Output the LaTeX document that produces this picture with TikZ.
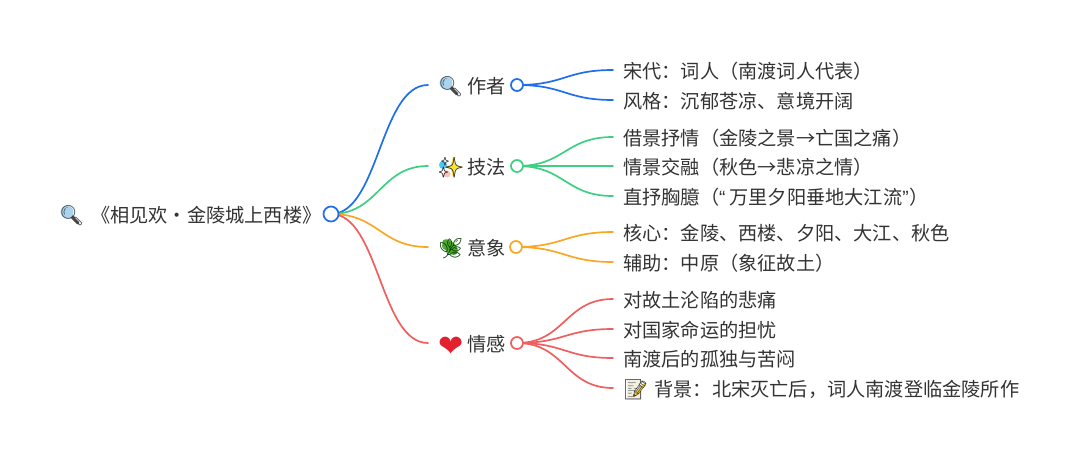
\documentclass[tikz,border=0pt]{standalone}
\usepackage{fontspec}
\setmainfont{Noto Sans CJK SC}
\newfontfamily\emojifont{Noto Emoji}
\newfontfamily\symbolfont{DejaVu Sans}
\newfontfamily\quotefont{Liberation Sans}
\usetikzlibrary{backgrounds}
\definecolor{txtcol}{HTML}{333333}
\definecolor{bluecol}{HTML}{1F6FEB}
\definecolor{greencol}{HTML}{3ECF82}
\definecolor{orangecol}{HTML}{F9A825}
\definecolor{redcol}{HTML}{EF5F5F}
\definecolor{lenscol}{HTML}{A9D3EE}
\definecolor{starcol}{HTML}{FFE629}
\definecolor{herbcol}{HTML}{4FA82E}
\definecolor{heartcol}{HTML}{E3202E}
\definecolor{pagecol}{HTML}{F3F0E2}
\newcommand{\iconmag}{{\fontsize{20}{22}\emojifont\color{black!75}🔍}}
\newcommand{\iconspark}{{\fontsize{20}{22}\emojifont\color{black!85}✨}}
\newcommand{\iconherb}{{\fontsize{20}{22}\emojifont\color{green!25!black}🌿}}
\newcommand{\iconheart}{{\fontsize{30}{22}\symbolfont\color{heartcol}\raisebox{-5.5pt}{❤}}}
\newcommand{\iconmemo}{{\fontsize{20}{22}\emojifont\color{black!75}📝}}
\tikzset{
  txt/.style={font=\fontsize{19.2}{22}\selectfont, text=txtcol, inner ysep=0pt, inner xsep=0pt, text height=19pt, text depth=2.4pt, anchor=west},
  leaf/.style={txt, inner xsep=10pt},
  dot/.style={circle, draw=#1, fill=white, line width=1.7pt, minimum size=12pt, inner sep=0pt},
  link/.style={line width=1.7pt, line cap=round},
  lens/.pic={
    \draw[black!70, line width=3pt, line cap=round] (4,4) -- (11,11);
    \fill[lenscol] (0,0) circle (6.5);
  },
}
\begin{document}
\begin{tikzpicture}[x=1pt, y=-1pt]
\useasboundingbox (0,0) rectangle (1080,459);

\node[txt] (root) at (59,214) {\iconmag\hspace{6.5pt}《相见欢・金陵城上西楼》};
\node[dot=bluecol, minimum size=15pt] (rootdot) at (331,214) {};

\node[leaf] (author) at (428,85) {\iconmag\hspace{4pt}作者};
\node[leaf] (skill) at (428,166) {\iconspark\hspace{4pt}技法};
\node[leaf] (image) at (428,247) {\iconherb\hspace{4pt}意象};
\node[leaf] (feel) at (428,343) {\iconheart\hspace{4pt}情感};

\node[dot=bluecol] (authordot) at (517,85) {};
\node[dot=greencol] (skilldot) at (517,166) {};
\node[dot=orangecol] (imagedot) at (516,247) {};
\node[dot=redcol] (feeldot) at (517,343) {};

\node[leaf] (a) at (613,70) {宋代：词人（南渡词人代表）};
\node[leaf] (b) at (613,100) {风格：沉郁苍凉、意境开阔};
\node[leaf] (c) at (613,137) {借景抒情（金陵之景→亡国之痛）};
\node[leaf] (d) at (613,166) {情景交融（秋色→悲凉之情）};
\node[leaf] (e) at (613,196) {直抒胸臆（{\quotefont “}\hspace{4pt}万里夕阳垂地大江流{\quotefont ”}\hspace{1pt}）};
\node[leaf] (f) at (613,232) {核心：金陵、西楼、夕阳、大江、秋色};
\node[leaf] (g) at (613,262) {辅助：中原（象征故土）};
\node[leaf] (h) at (613,299) {对故土沦陷的悲痛};
\node[leaf] (i) at (613,329) {对国家命运的担忧};
\node[leaf] (j) at (613,358) {南渡后的孤独与苦闷};
\node[leaf] (k) at (613,388) {\iconmemo\hspace{6pt}背景：北宋灭亡后，词人南渡登临金陵所作};

\begin{scope}[on background layer]
\draw[link, bluecol] (rootdot.center) .. controls +(48,0) and +(-48,0) .. (author.west);
\draw[link, greencol] (rootdot.center) .. controls +(48,0) and +(-48,0) .. (skill.west);
\draw[link, orangecol] (rootdot.center) .. controls +(48,0) and +(-48,0) .. (image.west);
\draw[link, redcol] (rootdot.center) .. controls +(48,0) and +(-48,0) .. (feel.west);

\draw[link, bluecol] (authordot.center) .. controls +(48,0) and +(-48,0) .. (a.west);
\draw[link, bluecol] (authordot.center) .. controls +(48,0) and +(-48,0) .. (b.west);
\draw[link, greencol] (skilldot.center) .. controls +(48,0) and +(-48,0) .. (c.west);
\draw[link, greencol] (skilldot.center) .. controls +(48,0) and +(-48,0) .. (d.west);
\draw[link, greencol] (skilldot.center) .. controls +(48,0) and +(-48,0) .. (e.west);
\draw[link, orangecol] (imagedot.center) .. controls +(48,0) and +(-48,0) .. (f.west);
\draw[link, orangecol] (imagedot.center) .. controls +(48,0) and +(-48,0) .. (g.west);
\draw[link, redcol] (feeldot.center) .. controls +(48,0) and +(-48,0) .. (h.west);
\draw[link, redcol] (feeldot.center) .. controls +(48,0) and +(-48,0) .. (i.west);
\draw[link, redcol] (feeldot.center) .. controls +(48,0) and +(-48,0) .. (j.west);
\draw[link, redcol] (feeldot.center) .. controls +(48,0) and +(-48,0) .. (k.west);

\pic at (67,212) {lens};
\pic at (446,83) {lens};
\fill[starcol] (453,156) -- (455,165) -- (463,167) -- (455,169) -- (453,178) -- (451,169) -- (443,167) -- (451,165) -- cycle;
\fill[cyan!70] (443,165) circle (4);
\fill[pink] (447,174) circle (3.5);
\fill[herbcol, rotate around={-45:(450,247)}] (450,247) ellipse (9.5 and 5.5);
\fill[pagecol] (627,380) rectangle (642,400);
\draw[starcol!80!orange, line width=2.5pt] (634,396) -- (645,384);
\end{scope}
\end{tikzpicture}
\end{document}
